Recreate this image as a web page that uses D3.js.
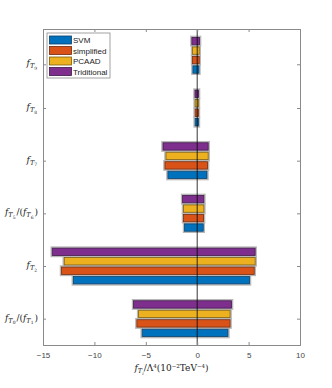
<!DOCTYPE html>
<html lang="en">
<head>
  <meta charset="UTF-8">
  <title>Coefficient ranges</title>
  <script src="https://d3js.org/d3.v7.min.js"></script>
  <style>
    body { margin: 0; padding: 0; background: #fff; }
    svg text { font-family: 'Liberation Sans', Arial, sans-serif; }
    .tex { font-family: 'DejaVu Serif', 'Liberation Serif', serif; }
  </style>
</head>
<body>
  <div id="chart"></div>
  <script>
    // categories, bottom to top: [index of f_T, index of denominator or null]
    const categories = [[0, 1], [2, null], [5, 6], [7, null], [8, null], [9, null]];
    const tickPos = [1, 2, 3, 4, 5, 5.83];
    const methods = ['SVM', 'simplified', 'PCAAD', 'Triditional'];
    const colors = ['#0072BD', '#D95319', '#EDB120', '#7E2F8E'];
    const edges = ['#0b3f66', '#6e2a0d', '#7a5a10', '#3e1646'];

    // lower / upper bounds per method, same order as categories
    const svmLo = [-5.35, -12.05, -1.23, -2.85, -0.2, -0.42];
    const svmHi = [2.99, 5.09, 0.59, 0.95, 0.12, 0.17];
    const simpLo = [-5.87, -13.2, -1.33, -3.14, -0.2, -0.45];
    const simpHi = [3.2, 5.55, 0.62, 1.01, 0.12, 0.2];
    const pcaadLo = [-5.7, -12.93, -1.33, -3.04, -0.2, -0.45];
    const pcaadHi = [3.2, 5.64, 0.65, 1.07, 0.12, 0.2];
    const tradLo = [-6.19, -14.1, -1.42, -3.33, -0.22, -0.52];
    const tradHi = [3.34, 5.64, 0.65, 1.07, 0.13, 0.23];

    const xTicks = [-15, -10, -5, 0, 5, 10];

    const los = [svmLo, simpLo, pcaadLo, tradLo];
    const his = [svmHi, simpHi, pcaadHi, tradHi];
    const offsets = [-0.27, -0.09, 0.09, 0.27];
    const barH = 0.14;

    const width = 332, height = 388;
    const margin = { top: 29, right: 32, bottom: 43, left: 43 };

    const svg = d3.select('#chart').append('svg')
      .attr('width', width).attr('height', height);

    const x = d3.scaleLinear().domain([-15, 10]).range([margin.left, width - margin.right]);
    const y = d3.scaleLinear().domain([0.5, 6.5]).range([height - margin.bottom, margin.top]);

    // bars
    const bars = [];
    methods.forEach((m, k) => {
      categories.forEach((c, i) => {
        bars.push({ k, pos: i + 1, lo: los[k][i], hi: his[k][i] });
      });
    });

    const g = svg.append('g');
    // light halo
    g.selectAll('rect.halo').data(bars).join('rect')
      .attr('class', 'halo')
      .attr('x', d => x(d.lo) - 1)
      .attr('y', d => y(d.pos + offsets[d.k] + barH / 2) - 1)
      .attr('width', d => x(d.hi) - x(d.lo) + 2)
      .attr('height', d => y(d.pos - barH / 2) - y(d.pos + barH / 2) + 2)
      .attr('fill', 'none')
      .attr('stroke', '#b8b8b8')
      .attr('stroke-width', 1.5);
    g.selectAll('rect.bar').data(bars).join('rect')
      .attr('class', 'bar')
      .attr('x', d => x(d.lo))
      .attr('y', d => y(d.pos + offsets[d.k] + barH / 2))
      .attr('width', d => x(d.hi) - x(d.lo))
      .attr('height', d => y(d.pos - barH / 2) - y(d.pos + barH / 2))
      .attr('fill', d => colors[d.k])
      .attr('stroke', d => edges[d.k])
      .attr('stroke-width', 0.8);

    // zero line
    svg.append('line')
      .attr('x1', x(0)).attr('x2', x(0))
      .attr('y1', y(6.5)).attr('y2', y(0.5))
      .attr('stroke', '#000').attr('stroke-width', 0.8);

    // axes
    const axisColor = '#8a8a8a';
    const xb = svg.append('g')
      .attr('transform', `translate(0,${y(0.5)})`)
      .call(d3.axisBottom(x).tickValues(xTicks).tickSize(-3).tickPadding(7).tickFormat(d3.format('d')));
    const xt = svg.append('g')
      .attr('transform', `translate(0,${y(6.5)})`)
      .call(d3.axisTop(x).tickValues(xTicks).tickSize(-3).tickFormat(''));
    const yl = svg.append('g')
      .attr('transform', `translate(${x(-15)},0)`)
      .call(d3.axisLeft(y).tickValues(tickPos).tickSize(-3).tickFormat(''));
    const yr = svg.append('g')
      .attr('transform', `translate(${x(10)},0)`)
      .call(d3.axisRight(y).tickValues(tickPos).tickSize(-3).tickFormat(''));
    [xb, xt, yl, yr].forEach(a => {
      a.select('.domain').attr('stroke', axisColor);
      a.selectAll('.tick line').attr('stroke', axisColor);
    });
    xb.selectAll('.tick text').attr('fill', '#444').style('font-size', '8px');

    // y tick labels: f_{T_n} or f_{T_n}/(f_{T_m})
    function fTerm(t, n) {
      t.append('tspan').attr('font-style', 'italic').text('f');
      t.append('tspan').attr('font-style', 'italic').attr('font-size', '6.5px').attr('dy', 2).text('T');
      t.append('tspan').attr('font-size', '4.5px').attr('dy', 1.5).text(n);
      t.append('tspan').attr('dy', -3.5).text('\u200A');
    }
    categories.forEach((c, i) => {
      const t = svg.append('text')
        .attr('class', 'tex')
        .attr('x', x(-15) - 5)
        .attr('y', y(tickPos[i]) + 2)
        .attr('text-anchor', 'end')
        .attr('font-size', '9px')
        .attr('fill', '#222');
      fTerm(t, c[0]);
      if (c[1] !== null) {
        t.append('tspan').text('/(');
        fTerm(t, c[1]);
        t.append('tspan').text(')');
      }
    });

    // x label
    const xl = svg.append('text')
      .attr('class', 'tex')
      .attr('x', (x(-15) + x(10)) / 2)
      .attr('y', 371)
      .attr('text-anchor', 'middle')
      .attr('font-size', '9px')
      .attr('fill', '#222');
    xl.append('tspan').attr('font-style', 'italic').text('f');
    xl.append('tspan').attr('font-style', 'italic').attr('font-size', '6.5px').attr('dy', 2).text('T');
    xl.append('tspan').attr('font-style', 'italic').attr('font-size', '4.5px').attr('dy', 1.5).text('i');
    xl.append('tspan').attr('dy', -3.5).text('/Λ');
    xl.append('tspan').attr('font-size', '5.5px').attr('dy', -3.5).text('4');
    xl.append('tspan').attr('dy', 3.5).text('(10');
    xl.append('tspan').attr('font-size', '5.5px').attr('dy', -3.5).text('−2');
    xl.append('tspan').attr('dy', 3.5).text('TeV');
    xl.append('tspan').attr('font-size', '5.5px').attr('dy', -3.5).text('−4');
    xl.append('tspan').attr('dy', 3.5).text(')');

    // legend
    const lg = svg.append('g').attr('transform', 'translate(47,33)');
    lg.append('rect').attr('width', 63).attr('height', 45)
      .attr('fill', '#fff').attr('stroke', axisColor).attr('stroke-width', 0.8);
    methods.forEach((m, k) => {
      const yy = 3 + k * 10.5;
      lg.append('rect').attr('x', 2.5).attr('y', yy).attr('width', 22).attr('height', 8)
        .attr('fill', colors[k]).attr('stroke', edges[k]).attr('stroke-width', 0.8);
      lg.append('text').attr('x', 26).attr('y', yy + 7)
        .attr('font-size', '8px').attr('fill', '#222').text(m);
    });
  </script>
</body>
</html>
